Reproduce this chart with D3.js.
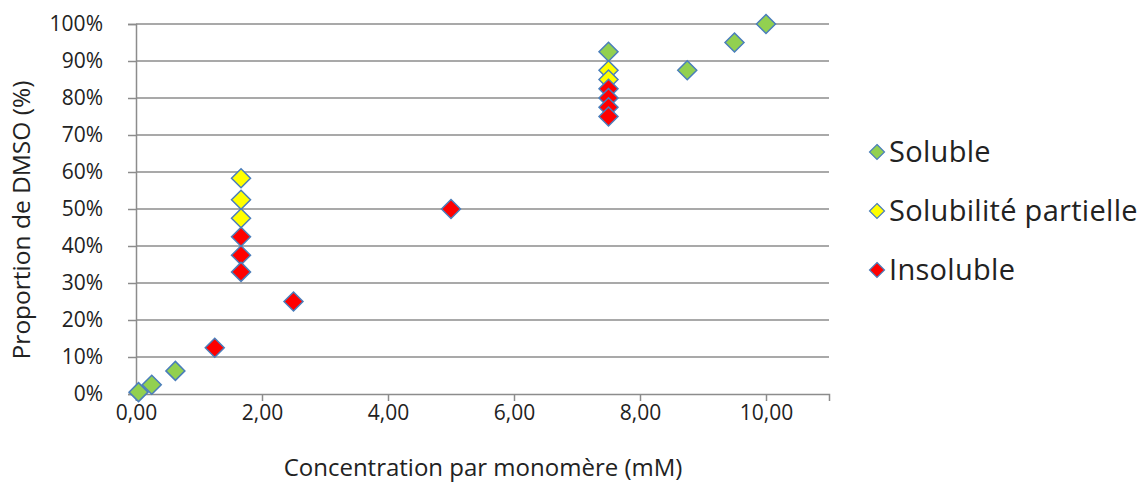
<!DOCTYPE html>
<html><head><meta charset="utf-8">
<script src="https://cdn.jsdelivr.net/npm/d3@7"></script>
<style>body{margin:0;background:#fff}svg{display:block}text{font-family:"Open Sans",sans-serif;fill:#222}</style>
</head><body><svg id="c" width="1148" height="485"></svg>
<script>
const solubleX = [0.04, 0.25, 0.625, 7.5, 8.75, 9.5, 10];
const solubleY = [0.005, 0.025, 0.0625, 0.925, 0.875, 0.95, 1.0];
const partielX = [1.667, 1.667, 1.667, 7.5, 7.5];
const partielY = [0.583, 0.525, 0.475, 0.875, 0.85];
const insolX = [1.25, 1.667, 1.667, 1.667, 2.5, 5, 7.5, 7.5, 7.5, 7.5];
const insolY = [0.125, 0.425, 0.375, 0.33, 0.25, 0.5, 0.825, 0.80, 0.775, 0.75];
const seriesNames = ["Soluble", "Solubilité partielle", "Insoluble"];
const seriesColors = ["#92D050", "#FFFF00", "#FF0000"];
const xTicks = [0, 2, 4, 6, 8, 10];
const yTicks = [0, .1, .2, .3, .4, .5, .6, .7, .8, .9, 1];

const svg = d3.select("#c");
const x = d3.scaleLinear().domain([0, 11]).range([136, 829]);
const y = d3.scaleLinear().domain([0, 1]).range([394, 24]);

// gridlines
svg.append("g").selectAll("line").data(yTicks.slice(1)).join("line")
  .attr("x1", 136).attr("x2", 829).attr("y1", d => y(d)).attr("y2", d => y(d))
  .attr("stroke", "#8c8c8c").attr("stroke-width", 1.5);

const fmtX = d => d3.format(".2f")(d).replace(".", ",");
const gx = svg.append("g").attr("transform", "translate(0,394)")
  .call(d3.axisBottom(x).tickValues(xTicks).tickFormat(fmtX).tickSize(7).tickPadding(4));
const gy = svg.append("g").attr("transform", "translate(136,0)")
  .call(d3.axisLeft(y).tickValues(yTicks).tickFormat(d3.format(".0%")).tickSize(8).tickPadding(25));
[gx, gy].forEach(g => {
  g.select(".domain").attr("stroke", "#8c8c8c").attr("stroke-width", 1.5);
  g.selectAll(".tick line").attr("stroke", "#8c8c8c").attr("stroke-width", 1.5);
  g.selectAll("text").style("font-size", "21px").style("font-family", '"Open Sans",sans-serif').attr("fill", "#222");
});

svg.append("text").attr("x", 483).attr("y", 476).attr("text-anchor", "middle")
  .style("font-size", "24px").text("Concentration par monomère (mM)");
svg.append("text").attr("transform", "translate(30,220) rotate(-90)").attr("text-anchor", "middle")
  .style("font-size", "24.5px").text("Proportion de DMSO (%)");

function diamondPath(r) { return `M0,${-r}L${r},0L0,${r}L${-r},0Z`; }

const series = [[solubleX, solubleY], [partielX, partielY], [insolX, insolY]];
series.forEach((s, i) => {
  const pts = s[0].map((v, k) => [v, s[1][k]]);
  svg.append("g").selectAll("path").data(pts).join("path")
    .attr("d", diamondPath(9.5))
    .attr("transform", d => `translate(${x(d[0])},${y(d[1])})`)
    .attr("fill", seriesColors[i]).attr("stroke", "#4A7EBB").attr("stroke-width", 1.5);
});

// legend
const lg = svg.append("g");
seriesNames.forEach((n, i) => {
  const yy = 152 + i * 59;
  lg.append("path").attr("d", diamondPath(7.5)).attr("transform", `translate(877,${yy})`)
    .attr("fill", seriesColors[i]).attr("stroke", "#4A7EBB").attr("stroke-width", 1.2);
  lg.append("text").attr("x", 889).attr("y", yy).attr("dy", "0.35em")
    .style("font-size", "29px").style("letter-spacing", "0.3px").text(n);
});
</script></body></html>
